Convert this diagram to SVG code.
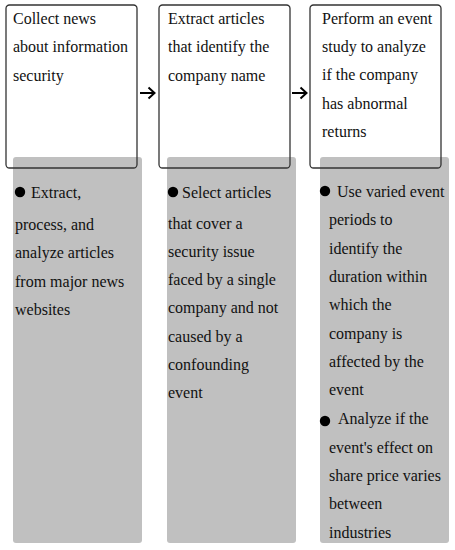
<svg xmlns="http://www.w3.org/2000/svg" width="455" height="550" viewBox="0 0 455 550">
<defs>
<style>
text{font-family:"Liberation Serif","Times New Roman",serif;font-size:16px;fill:#111}
.box{fill:none;stroke:#333;stroke-width:1.3}
.panel{fill:#c0c0c0;stroke:none}
.dot{fill:#000}
.arr{fill:none;stroke:#000;stroke-width:2}
</style>
</defs>
<rect width="455" height="550" fill="#fff"/>
<g id="node1">
<rect class="panel" x="13" y="157" width="129" height="386" rx="3"/>
<rect class="box" x="6" y="5" width="131" height="163" rx="3.5"/>
<text x="13" y="24">Collect news</text>
<text x="13" y="52.4">about information</text>
<text x="13" y="80.8">security</text>
<circle class="dot" cx="20" cy="192" r="5.2"/>
<text x="31" y="198">Extract,</text>
<text x="15" y="229.5">process, and</text>
<text x="15" y="258">analyze articles</text>
<text x="15" y="286.5">from major news</text>
<text x="15" y="315">websites</text>
</g>
<g id="node2">
<rect class="panel" x="167" y="157" width="129" height="386" rx="3"/>
<rect class="box" x="159" y="5" width="131" height="163" rx="3.5"/>
<text x="168" y="24">Extract articles</text>
<text x="168" y="52.4">that identify the</text>
<text x="168" y="80.8">company name</text>
<circle class="dot" cx="173" cy="192" r="5.2"/>
<text x="182" y="198">Select articles</text>
<text x="168" y="228.5">that cover a</text>
<text x="168" y="256.8">security issue</text>
<text x="168" y="285.1">faced by a single</text>
<text x="168" y="313.4">company and not</text>
<text x="168" y="341.7">caused by a</text>
<text x="168" y="370">confounding</text>
<text x="168" y="398.3">event</text>
</g>
<g id="node3">
<rect class="panel" x="320" y="157" width="129" height="386" rx="3"/>
<rect class="box" x="310" y="5" width="131" height="163" rx="3.5"/>
<text x="322" y="23.5">Perform an event</text>
<text x="322" y="51.9">study to analyze</text>
<text x="322" y="80.3">if the company</text>
<text x="322" y="108.7">has abnormal</text>
<text x="322" y="137.1">returns</text>
<circle class="dot" cx="325" cy="191" r="5.2"/>
<text x="337" y="197">Use varied event</text>
<text x="329" y="225.3">periods to</text>
<text x="329" y="253.6">identify the</text>
<text x="329" y="281.9">duration within</text>
<text x="329" y="310.2">which the</text>
<text x="329" y="338.5">company is</text>
<text x="329" y="366.8">affected by the</text>
<text x="329" y="395.1">event</text>
<circle class="dot" cx="325" cy="421" r="5.2"/>
<text x="338" y="424.4">Analyze if the</text>
<text x="329" y="452.7">event's effect on</text>
<text x="329" y="481">share price varies</text>
<text x="329" y="509.3">between</text>
<text x="329" y="537.6">industries</text>
</g>
<g id="connectors">
<path class="arr" d="M140 93H154.5M148.5 87.5L154.5 93L148.5 98.5"/>
<path class="arr" d="M292 93H306.5M300.5 87.5L306.5 93L300.5 98.5"/>
</g>
</svg>
